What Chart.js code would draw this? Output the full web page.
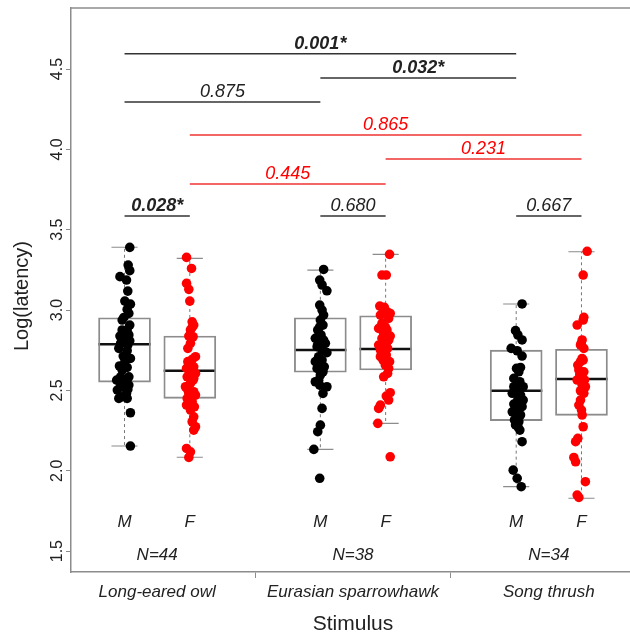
<!DOCTYPE html>
<html>
<head>
<meta charset="utf-8">
<script src="https://cdn.jsdelivr.net/npm/chart.js@4.4.1/dist/chart.umd.min.js"></script>
<style>
html, body { margin: 0; padding: 0; background: #fff; overflow: hidden; }
#wrap { width: 630px; height: 634px; overflow: hidden; }
</style>
</head>
<body>
<div id="wrap"><canvas id="chart" width="640" height="634"></canvas></div>
<script>
// Stimulus groups and box positions (M at 1,4,7 ; F at 2,5,8)
const groups = ['Long-eared owl', 'Eurasian sparrowhawk', 'Song thrush'];
const groupN = ['N=44', 'N=38', 'N=34'];
const groupCenters = [1.5, 4.5, 7.5];
const malePos = [1, 4, 7];
const femalePos = [2, 5, 8];
const yTicks = [1.5, 2.0, 2.5, 3.0, 3.5, 4.0, 4.5];

// box stats: [lower whisker, q1, median, q3, upper whisker]
const maleBoxes = [
    [2.154, 2.552, 2.787, 2.952, 3.391],
    [2.133, 2.613, 2.751, 2.952, 3.249],
    [1.901, 2.312, 2.498, 2.751, 3.038]
];
const femaleBoxes = [
    [2.084, 2.451, 2.623, 2.839, 3.322],
    [2.295, 2.627, 2.758, 2.965, 3.347],
    [1.829, 2.345, 2.571, 2.756, 3.363]
];

// raw points (log latency) and horizontal jitter
const owlMaleY = [3.39, 3.28, 3.245, 3.208, 3.187, 3.118, 3.056, 3.037, 3.004, 2.979, 2.954, 2.938, 2.907, 2.876, 2.838, 2.845, 2.813, 2.793, 2.782, 2.762, 2.747, 2.714, 2.699, 2.652, 2.643, 2.627, 2.585, 2.564, 2.548, 2.523, 2.533, 2.502, 2.481, 2.461, 2.45, 2.45, 2.361, 2.154, 2.834, 2.876, 2.809, 2.678, 2.585, 2.506];
const owlMaleDx = [0.08, 0.056, 0.08, -0.07, 0.03, 0.05, 0.005, 0.09, 0.04, 0.066, -0.01, -0.036, 0.08, 0.04, -0.07, 0.066, -0.01, -0.06, 0.05, -0.087, 0.04, -0.02, 0.09, -0.077, 0.04, -0.036, 0.066, -0.12, -0.01, -0.06, 0.066, -0.11, 0.03, -0.036, -0.087, 0.04, 0.09, 0.09, 0.015, -0.036, 0.08, 0.005, -0.06, 0.05];
const owlFemaleY = [3.328, 3.259, 3.166, 3.129, 3.056, 2.927, 2.907, 2.876, 2.838, 2.834, 2.793, 2.762, 2.71, 2.693, 2.668, 2.647, 2.637, 2.616, 2.606, 2.585, 2.575, 2.544, 2.523, 2.492, 2.481, 2.471, 2.45, 2.43, 2.409, 2.378, 2.336, 2.305, 2.274, 2.253, 2.139, 2.118, 2.083, 2.892, 2.679, 2.564, 2.461, 2.398, 2.606, 2.502];
const owlFemaleDx = [-0.05, 0.026, -0.05, -0.015, 0, 0.036, 0.06, 0.01, -0.015, 0.05, 0.01, -0.03, 0.087, 0.036, -0.015, 0.06, -0.05, 0.01, 0.087, -0.04, 0.06, 0.01, -0.066, 0.06, -0.015, 0.087, -0.04, 0.036, -0.05, 0.01, 0.06, 0.036, 0.087, 0.06, -0.05, 0.01, -0.015, 0.036, -0.03, 0.05, 0, 0.07, 0.01, -0.03];
const hawkMaleY = [3.253, 3.187, 3.156, 3.12, 3.031, 3.0, 2.969, 2.938, 2.907, 2.876, 2.845, 2.824, 2.803, 2.793, 2.772, 2.751, 2.735, 2.71, 2.679, 2.658, 2.637, 2.616, 2.596, 2.554, 2.533, 2.523, 2.481, 2.388, 2.284, 2.243, 2.133, 1.953, 2.896, 2.813, 2.782, 2.689, 2.647, 2.564];
const hawkMaleDx = [0.05, -0.01, 0.026, 0.1, -0.01, 0.026, 0.05, 0, 0.04, -0.04, 0.01, -0.077, -0.01, 0.077, -0.05, 0.026, 0.1, -0.026, -0.077, 0.01, -0.05, 0.04, 0, -0.077, -0.01, 0.1, 0.04, 0.026, 0, -0.04, -0.1, -0.01, -0.01, 0.05, -0.04, 0.026, 0.06, -0.026];
const hawkFemaleY = [3.347, 3.218, 3.218, 3.025, 3.0, 2.99, 2.979, 2.969, 2.886, 2.876, 2.838, 2.824, 2.793, 2.782, 2.762, 2.73, 2.71, 2.679, 2.658, 2.606, 2.486, 2.465, 2.44, 2.409, 2.388, 2.295, 2.087, 3.017, 2.948, 2.917, 2.896, 2.855, 2.813, 2.751, 2.72, 2.689, 2.637, 2.585];
const hawkFemaleDx = [0.06, -0.056, 0.01, -0.09, -0.03, 0.02, 0.07, -0.08, -0.107, 0.02, 0.07, -0.056, 0.01, -0.107, 0.03, -0.03, -0.08, 0.06, -0.005, 0.03, 0.07, 0.01, 0.046, -0.08, -0.107, -0.12, 0.07, -0.02, 0.046, -0.056, -0.005, -0.03, 0.046, -0.08, 0.01, -0.04, 0.046, -0.03];
const thrushMaleY = [3.038, 2.872, 2.845, 2.814, 2.762, 2.747, 2.714, 2.637, 2.643, 2.575, 2.554, 2.523, 2.502, 2.482, 2.471, 2.444, 2.415, 2.399, 2.367, 2.336, 2.305, 2.285, 2.253, 2.181, 2.004, 1.953, 1.901, 2.616, 2.523, 2.44, 2.388, 2.316, 2.347, 2.274];
const thrushMaleDx = [0.09, -0.01, 0.026, 0.09, -0.077, 0.015, 0.09, 0.005, 0.066, -0.036, 0.056, 0.107, 0.005, -0.06, 0.066, 0.026, -0.036, 0.09, -0.06, 0.005, 0.04, -0.01, 0.056, 0.09, -0.046, 0.015, 0.077, 0.04, -0.036, 0.107, 0.015, -0.026, 0.066, 0.026];
const thrushFemaleY = [3.366, 3.218, 2.955, 2.938, 2.907, 2.814, 2.782, 2.762, 2.699, 2.679, 2.658, 2.616, 2.596, 2.565, 2.533, 2.523, 2.498, 2.482, 2.409, 2.347, 2.274, 2.202, 2.181, 2.083, 2.056, 1.932, 1.849, 1.834, 2.793, 2.689, 2.627, 2.565, 2.44, 2.378];
const thrushFemaleDx = [0.087, 0.026, 0.036, 0.026, -0.066, 0.01, -0.015, 0.036, 0.01, -0.015, -0.056, 0.036, -0.026, -0.066, 0.01, 0.06, -0.015, 0.036, -0.04, 0.01, 0.026, -0.056, -0.09, -0.117, -0.09, 0.06, -0.066, -0.04, -0.005, 0.026, -0.04, 0.046, -0.015, 0];

// pairwise comparisons (p values)
const bracketFrom = [1, 4, 1, 2, 5, 2, 1, 4, 7];
const bracketTo = [7, 7, 4, 8, 8, 5, 2, 5, 8];
const bracketY = [4.595, 4.445, 4.295, 4.09, 3.94, 3.785, 3.585, 3.585, 3.585];
const bracketP = ['0.001*', '0.032*', '0.875', '0.865', '0.231', '0.445', '0.028*', '0.680', '0.667'];
const bracketSex = ['M', 'M', 'M', 'F', 'F', 'F', 'MF', 'MF', 'MF'];

const FONT = '"Liberation Sans", Arial, sans-serif';
const GRAY = '#8c8c8c';

function points(pos, ys, dxs) {
    return ys.map((v, i) => ({ x: pos + (dxs[i] || 0), y: v }));
}

const maleData = points(1, owlMaleY, owlMaleDx)
    .concat(points(4, hawkMaleY, hawkMaleDx))
    .concat(points(7, thrushMaleY, thrushMaleDx));
const femaleData = points(2, owlFemaleY, owlFemaleDx)
    .concat(points(5, hawkFemaleY, hawkFemaleDx))
    .concat(points(8, thrushFemaleY, thrushFemaleDx));

const allPos = malePos.concat(femalePos);
const allBoxes = maleBoxes.concat(femaleBoxes);
const boxData = allPos.map((p, i) => ({ x: p, y: [allBoxes[i][1], allBoxes[i][3]] }));

const boxExtras = {
    id: 'boxExtras',
    beforeDatasetsDraw(chart) {
        const { ctx, scales: { x, y } } = chart;
        ctx.save();
        allPos.forEach((p, i) => {
            const [lo, q1, med, q3, hi] = allBoxes[i];
            const cx = x.getPixelForValue(p);
            // whiskers
            ctx.strokeStyle = '#777';
            ctx.lineWidth = 1;
            ctx.setLineDash([3, 3]);
            ctx.beginPath();
            ctx.moveTo(cx, y.getPixelForValue(q3));
            ctx.lineTo(cx, y.getPixelForValue(hi));
            ctx.moveTo(cx, y.getPixelForValue(q1));
            ctx.lineTo(cx, y.getPixelForValue(lo));
            ctx.stroke();
            ctx.setLineDash([]);
            // caps
            ctx.strokeStyle = GRAY;
            ctx.lineWidth = 1.2;
            ctx.beginPath();
            [lo, hi].forEach(v => {
                ctx.moveTo(x.getPixelForValue(p - 0.2), y.getPixelForValue(v));
                ctx.lineTo(x.getPixelForValue(p + 0.2), y.getPixelForValue(v));
            });
            ctx.stroke();
            // median
            ctx.strokeStyle = '#111';
            ctx.lineWidth = 2.5;
            ctx.beginPath();
            ctx.moveTo(x.getPixelForValue(p - 0.4), y.getPixelForValue(med));
            ctx.lineTo(x.getPixelForValue(p + 0.4), y.getPixelForValue(med));
            ctx.stroke();
        });
        ctx.restore();
    },
    afterDatasetsDraw(chart) {
        const { ctx, chartArea: area, scales: { x, y } } = chart;
        ctx.save();

        // top of frame
        ctx.strokeStyle = GRAY;
        ctx.lineWidth = 1.5;
        ctx.beginPath();
        ctx.moveTo(area.left, area.top);
        ctx.lineTo(area.right, area.top);
        ctx.stroke();

        // comparison lines and p values
        ctx.textAlign = 'center';
        ctx.textBaseline = 'alphabetic';
        bracketP.forEach((label, i) => {
            const x0 = x.getPixelForValue(bracketFrom[i]);
            const x1 = x.getPixelForValue(bracketTo[i]);
            const py = y.getPixelForValue(bracketY[i]);
            const col = bracketSex[i] === 'F' ? '#ff0000' : '#222';
            ctx.strokeStyle = bracketSex[i] === 'F' ? '#ee3333' : '#333';
            ctx.lineWidth = 1.5;
            ctx.beginPath();
            ctx.moveTo(x0, py);
            ctx.lineTo(x1, py);
            ctx.stroke();
            ctx.fillStyle = col;
            ctx.font = (label.includes('*') ? 'italic bold ' : 'italic ') + '18px ' + FONT;
            ctx.fillText(label, (x0 + x1) / 2, py - 5);
        });

        // sex and sample size labels
        ctx.fillStyle = '#222';
        ctx.font = 'italic 17px ' + FONT;
        malePos.forEach(p => ctx.fillText('M', x.getPixelForValue(p), y.getPixelForValue(1.65)));
        femalePos.forEach(p => ctx.fillText('F', x.getPixelForValue(p), y.getPixelForValue(1.65)));
        groupCenters.forEach((c, i) => ctx.fillText(groupN[i], x.getPixelForValue(c), y.getPixelForValue(1.445)));

        // x tick labels
        groupCenters.forEach((c, i) => ctx.fillText(groups[i], x.getPixelForValue(c), area.bottom + 25));
        ctx.font = '21px ' + FONT;
        ctx.fillText('Stimulus', (area.left + area.right) / 2, area.bottom + 58);

        // y tick labels (rotated like R)
        ctx.font = '16px ' + FONT;
        yTicks.forEach(v => {
            ctx.save();
            ctx.translate(area.left - 9, y.getPixelForValue(v));
            ctx.rotate(-Math.PI / 2);
            ctx.fillText(v.toFixed(1), 0, 0);
            ctx.restore();
        });
        ctx.save();
        ctx.font = '20px ' + FONT;
        ctx.translate(28, (area.top + area.bottom) / 2 + 6);
        ctx.rotate(-Math.PI / 2);
        ctx.fillText('Log(latency)', 0, 0);
        ctx.restore();

        ctx.restore();
    }
};

new Chart(document.getElementById('chart'), {
    type: 'scatter',
    data: {
        datasets: [
            {
                type: 'bar',
                data: boxData,
                backgroundColor: 'rgba(0,0,0,0)',
                borderColor: GRAY,
                borderWidth: 1.2,
                borderSkipped: false,
                barThickness: 52,
                order: 10
            },
            {
                data: maleData,
                backgroundColor: '#000',
                borderWidth: 0,
                pointRadius: 4.8,
                order: 1
            },
            {
                data: femaleData,
                backgroundColor: '#ff0000',
                borderWidth: 0,
                pointRadius: 4.8,
                order: 0
            }
        ]
    },
    options: {
        responsive: false,
        animation: false,
        events: [],
        layout: { padding: { top: 8, right: 5, left: 0, bottom: 0 } },
        plugins: { legend: { display: false }, tooltip: { enabled: false } },
        scales: {
            x: {
                type: 'linear',
                min: 0.18,
                max: 8.82,
                offset: false,
                afterBuildTicks: s => { s.ticks = groupCenters.map(v => ({ value: v })); },
                afterFit: s => { s.height = 62; },
                grid: { drawOnChartArea: false, drawTicks: true, tickLength: 6, color: GRAY },
                border: { display: true, color: GRAY, width: 1.5 },
                ticks: { display: false }
            },
            y: {
                type: 'linear',
                min: 1.37,
                max: 4.88,
                afterBuildTicks: s => { s.ticks = yTicks.map(v => ({ value: v })); },
                afterFit: s => { s.width = 71; },
                grid: { drawOnChartArea: false, drawTicks: true, tickLength: 5, color: GRAY },
                border: { display: true, color: GRAY, width: 1.5 },
                ticks: { display: false }
            }
        }
    },
    plugins: [boxExtras]
});
</script>
</body>
</html>
